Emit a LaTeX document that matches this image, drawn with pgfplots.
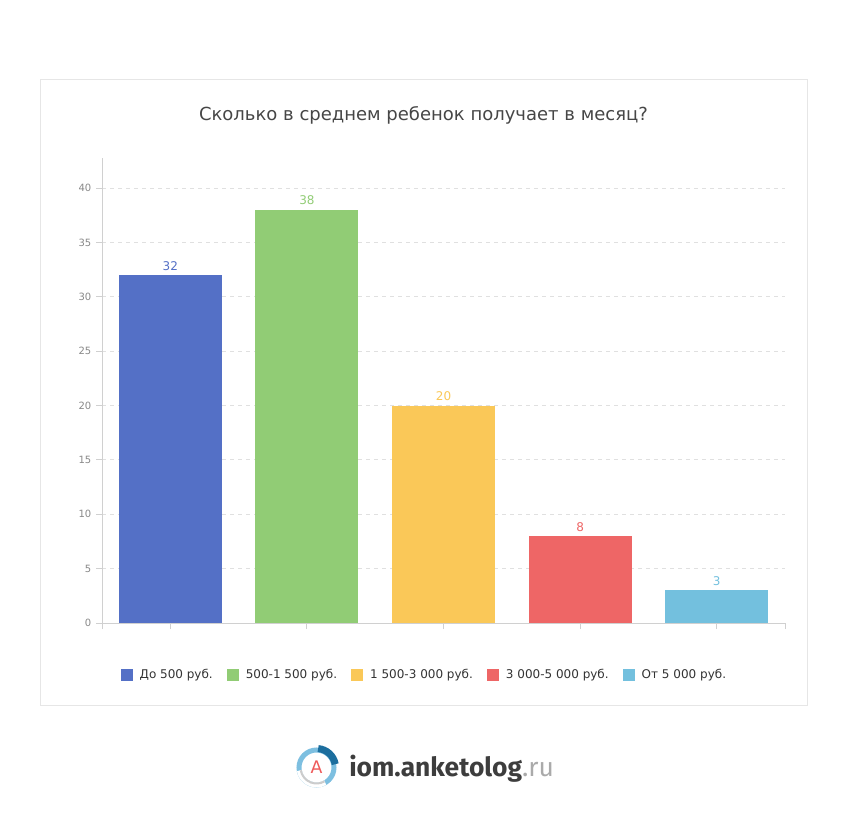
\documentclass[border=0pt]{standalone}
\usepackage{fontspec}
\setmainfont{DejaVu Sans}
\newfontfamily\logofont{Fira Sans}
\usepackage{pgfplots}
\pgfplotsset{compat=1.18}
\definecolor{c1}{HTML}{5470C6}
\definecolor{c2}{HTML}{91CC75}
\definecolor{c3}{HTML}{FAC858}
\definecolor{c4}{HTML}{EE6666}
\definecolor{c5}{HTML}{73C0DE}
\definecolor{framec}{HTML}{E6E6E6}
\definecolor{axisc}{HTML}{D0D0D0}
\definecolor{gridc}{HTML}{E0E0E0}
\definecolor{tickc}{HTML}{888888}
\definecolor{titlec}{HTML}{464646}
\definecolor{legc}{HTML}{333333}
\definecolor{logodark}{HTML}{3D3D3D}
\definecolor{logogray}{HTML}{AAAAAA}
\definecolor{ringblue}{HTML}{7DBFE0}
\definecolor{ringdark}{HTML}{1C6E9E}
\definecolor{ringgray}{HTML}{CCCCCC}
\definecolor{logored}{HTML}{EE5A5A}
\begin{document}
\begin{tikzpicture}[x=0.75pt,y=0.75pt]
\path[use as bounding box] (0,0) rectangle (848,829);
\draw[framec, line width=0.75pt] (40.5,123.5) rectangle (807.5,749.5);
\node[font=\fontsize{13.5}{15}\selectfont, text=titlec] at (423.5,714) {Сколько в среднем ребенок получает в месяц?};
\begin{axis}[
  at={(76.5pt,154.5pt)}, anchor=south west,
  width=512.25pt, height=348.75pt, scale only axis,
  xmin=-0.5, xmax=4.5, ymin=0, ymax=42.76,
  axis x line*=bottom, axis y line*=left,
  axis line style={draw=axisc, line width=0.75pt, -},
  ytick={0,5,...,40},
  xtick={-0.5,0,1,2,3,4,4.5}, xticklabels={},
  /pgf/number format/assume math mode=true,
  ymajorgrids, grid style={gridc, line width=0.75pt, dash pattern=on 3pt off 3pt},
  tick style={axisc, line width=0.75pt}, major tick length=4.5pt, tick align=outside,
  yticklabel style={font=\fontsize{7.5}{8}\selectfont, text=tickc},
  ybar, bar width=77.25pt, bar shift=0pt,
  nodes near coords,
  nodes near coords style={font=\fontsize{9}{10}\selectfont},
  legend columns=-1,
  legend image code/.code={\path[#1, draw=none] (0pt,-4.5pt) rectangle (9pt,4.5pt);},
  legend style={at={(0.4705,-0.112)}, anchor=center, draw=none, fill=none,
    font=\fontsize{9}{10}\selectfont, text=legc, nodes={inner sep=0pt},
    /tikz/every odd column/.style={column sep=5.25pt},
    /tikz/every even column/.style={column sep=10.5pt}},
]
\addplot[fill=c1, draw=none, every node near coord/.append style={text=c1}] coordinates {(0,32)};
\addlegendentry{До 500 руб.}
\addplot[fill=c2, draw=none, every node near coord/.append style={text=c2}] coordinates {(1,38)};
\addlegendentry{500-1 500 руб.}
\addplot[fill=c3, draw=none, every node near coord/.append style={text=c3}] coordinates {(2,20)};
\addlegendentry{1 500-3 000 руб.}
\addplot[fill=c4, draw=none, every node near coord/.append style={text=c4}] coordinates {(3,8)};
\addlegendentry{3 000-5 000 руб.}
\addplot[fill=c5, draw=none, every node near coord/.append style={text=c5}] coordinates {(4,3)};
\addlegendentry{От 5 000 руб.}
\end{axis}
% logo
\draw[ringblue, line width=3.75pt] (316.5,61.5) circle (17.5);
\draw[white, line width=3.75pt] ([shift={(190:17.5)}]316.5,61.5) arc (190:300:17.5);
\draw[ringgray, line width=1.5pt] ([shift={(190:16)}]316.5,61.5) arc (190:300:16);
\draw[ringdark, line width=5.25pt] ([shift={(10:19)}]316.5,61.5) arc (10:85:19);
\node[font=\fontsize{13}{13}\selectfont, text=logored] at (316.5,61.5) {A};
\node[anchor=base west, inner sep=0pt, font=\logofont\bfseries\fontsize{19.8}{22}\selectfont] at (349,53)
  {\textcolor{logodark}{iom.anketolog}\textcolor{logogray}{\mdseries.ru}};
\end{tikzpicture}
\end{document}
